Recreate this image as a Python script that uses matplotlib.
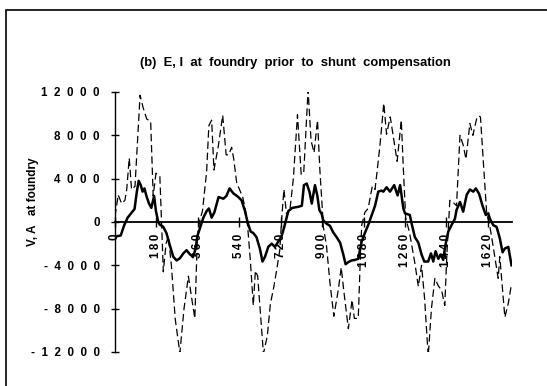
import matplotlib.pyplot as plt
from matplotlib.patches import Rectangle

# current (solid) - phase in degrees, amps
i_deg = [0, 25, 40, 55, 70, 85, 95, 103, 112, 120, 128, 138, 148, 158, 170, 178, 188, 195,
         210, 224, 239, 253, 268, 282, 297, 311, 326, 340, 350, 358, 370, 384, 398, 408,
         420, 432, 450, 471, 484, 498, 514, 536, 550, 565, 577, 590, 600, 615, 630, 641,
         652, 666, 681, 695, 710, 724, 735, 753, 770, 796, 812, 821, 833, 845, 855, 869,
         879, 888, 898, 905, 919, 934, 948, 963, 978, 992, 1002, 1014, 1028, 1043, 1057,
         1072, 1086, 1100, 1115, 1130, 1144, 1158, 1166, 1180, 1195, 1213, 1228, 1239,
         1253, 1260, 1281, 1289, 1303, 1318, 1332, 1344, 1361, 1373, 1383, 1393, 1405,
         1416, 1426, 1436, 1448, 1462, 1477, 1484, 1499, 1513, 1528, 1542, 1557, 1568,
         1582, 1597, 1611, 1622, 1629, 1636, 1644, 1658, 1672, 1684, 1694, 1709, 1723]
i_amp = [-1350, -1250, -300, 400, 800, 1200, 2800, 3800, 3400, 2800, 3100, 2300, 1700, 1300,
         2400, 1000, 0, -250, -450, -1050, -2200, -3200, -3550, -3350, -2900, -2600, -3000,
         -3200, -2500, -1300, -500, 400, 1000, 1250, 400, 900, 2300, 2150, 2400, 3100, 2650,
         2300, 2000, 1000, -100, -900, -1000, -1400, -2500, -3650, -3200, -2300, -2000, -2300,
         -1800, -1300, -500, 1000, 1300, 1400, 1500, 3400, 3550, 2800, 1700, 3400, 2450, 1100,
         750, 150, -150, -350, -950, -1400, -1900, -3000, -3900, -3700, -3550, -3500, -3400,
         -1800, -1000, -300, 600, 1500, 2800, 2900, 2800, 3200, 2800, 3400, 2450, 3400, 1250,
         800, 650, -150, -1400, -1900, -3000, -3650, -3650, -2900, -3650, -2700, -3400, -3000,
         -3500, -2100, -900, -300, 300, 1100, 1850, 950, 2500, 3000, 2800, 3100, 2600, 1500,
         650, 800, 300, 0, -300, -450, -1500, -2800, -2450, -2300, -4000]

# voltage (dashed)
e_deg = [0, 14, 29, 43, 51, 62, 72, 87, 109, 123, 138, 155, 166, 178, 195, 203, 210, 222,
         232, 245, 262, 282, 300, 319, 333, 347, 358, 369, 380, 398, 408, 420, 430, 449, 468,
         483, 494, 507, 516, 529, 543, 555, 565, 576, 588, 601, 610, 620, 645, 662, 675, 690,
         702, 716, 724, 734, 746, 760, 775, 793, 809, 820, 839, 852, 865, 880, 890, 900, 905,
         919, 934, 951, 970, 983, 995, 1014, 1030, 1040, 1057, 1065, 1072, 1086, 1100, 1118,
         1130, 1151, 1168, 1180, 1196, 1226, 1244, 1253, 1263, 1280, 1303, 1318, 1332, 1345,
         1361, 1375, 1390, 1405, 1419, 1433, 1442, 1455, 1470, 1484, 1499, 1513, 1525, 1542,
         1555, 1571, 1580, 1588, 1615, 1629, 1645, 1665, 1672, 1694, 1709, 1723]
e_volt = [500, 2500, 1700, 2000, 3000, 5900, 3000, 3300, 11700, 10500, 9500, 9300, 2400, 4500,
          4200, -400, -4600, -2000, -1300, -4000, -9000, -12100, -8000, -5000, -7000, -8900,
          -1300, 200, 1000, 4600, 8900, 9400, 4800, 7000, 9850, 6200, 6200, 6900, 5800, 3600,
          2900, 2300, 1300, -300, -3500, -7700, -4500, -5000, -12150, -10500, -7600, -6000,
          -4500, -2600, 200, 3000, 600, 1100, 4000, 9900, 4400, 4500, 12200, 7500, 6400, 9400,
          4900, 1500, -400, -2200, -5600, -8700, -6300, -4200, -6500, -9850, -7200, -8900,
          -8900, -4000, -300, 900, 1250, 3300, 3000, 7000, 10950, 8100, 9700, 5600, 9400, 4900,
          400, -1000, -3800, -5950, -4000, -7000, -12400, -8000, -5200, -5900, -6300, -7700,
          -3000, 2000, 1800, 1500, 8000, 7100, 5800, 9100, 8000, 9500, 9800, 9700, 800, -400,
          -2500, -5200, -3200, -8800, -7500, -5700]

x_ticks = [0, 180, 360, 540, 720, 900, 1080, 1260, 1440, 1620]
y_ticks = [-12000, -8000, -4000, 0, 4000, 8000, 12000]

title = "(b)  E, I  at  foundry  prior  to  shunt  compensation"
ylabel = "V, A   at foundry"

plt.rcParams['font.family'] = ['Liberation Sans', 'DejaVu Sans']
plt.rcParams['font.weight'] = 'bold'


def spaced(v, sep):
    return sep.join(str(v))


fig = plt.figure(figsize=(5.47, 3.86), dpi=100)
ax = fig.add_axes([0.2102, 0.0881, 0.7258, 0.6736])

ax.plot(e_deg, e_volt, color='black', lw=0.9, linestyle=(0, (6, 3)))
ax.plot(i_deg, i_amp, color='black', lw=1.8, solid_joinstyle='round')

ax.set_xlim(0, 1725)
ax.set_ylim(-12000, 12000)

for s in ['top', 'right']:
    ax.spines[s].set_visible(False)
ax.spines['bottom'].set_position(('data', 0))
ax.spines['bottom'].set_linewidth(1.3)
ax.spines['left'].set_linewidth(1.0)

ax.set_xticks(x_ticks)
ax.set_xticklabels([spaced(t, '\u2009') for t in x_ticks], rotation=90, fontsize=8.4,
                   fontweight='bold')
ax.set_yticks(y_ticks)
ax.set_yticklabels([spaced(t, '\u2007') for t in y_ticks], fontsize=8.4, fontweight='bold')
ax.tick_params(axis='x', direction='inout', length=7, width=1, pad=5)
ax.tick_params(axis='y', direction='inout', length=6, width=1, pad=8)

fig.text(0.54, 1 - 63 / 386, title, ha='center', va='center', fontsize=9.4, fontweight='bold')
fig.text(33 / 547, 1 - 202 / 386, ylabel, rotation=90, ha='center', va='center',
         fontsize=8.5, fontweight='bold')

fig.patches.append(Rectangle((6 / 547, -0.05), 1.0, 1 - 10 / 386 + 0.05, fill=False,
                             lw=1.2, edgecolor='black', transform=fig.transFigure))

plt.savefig('out.png', dpi=100)
